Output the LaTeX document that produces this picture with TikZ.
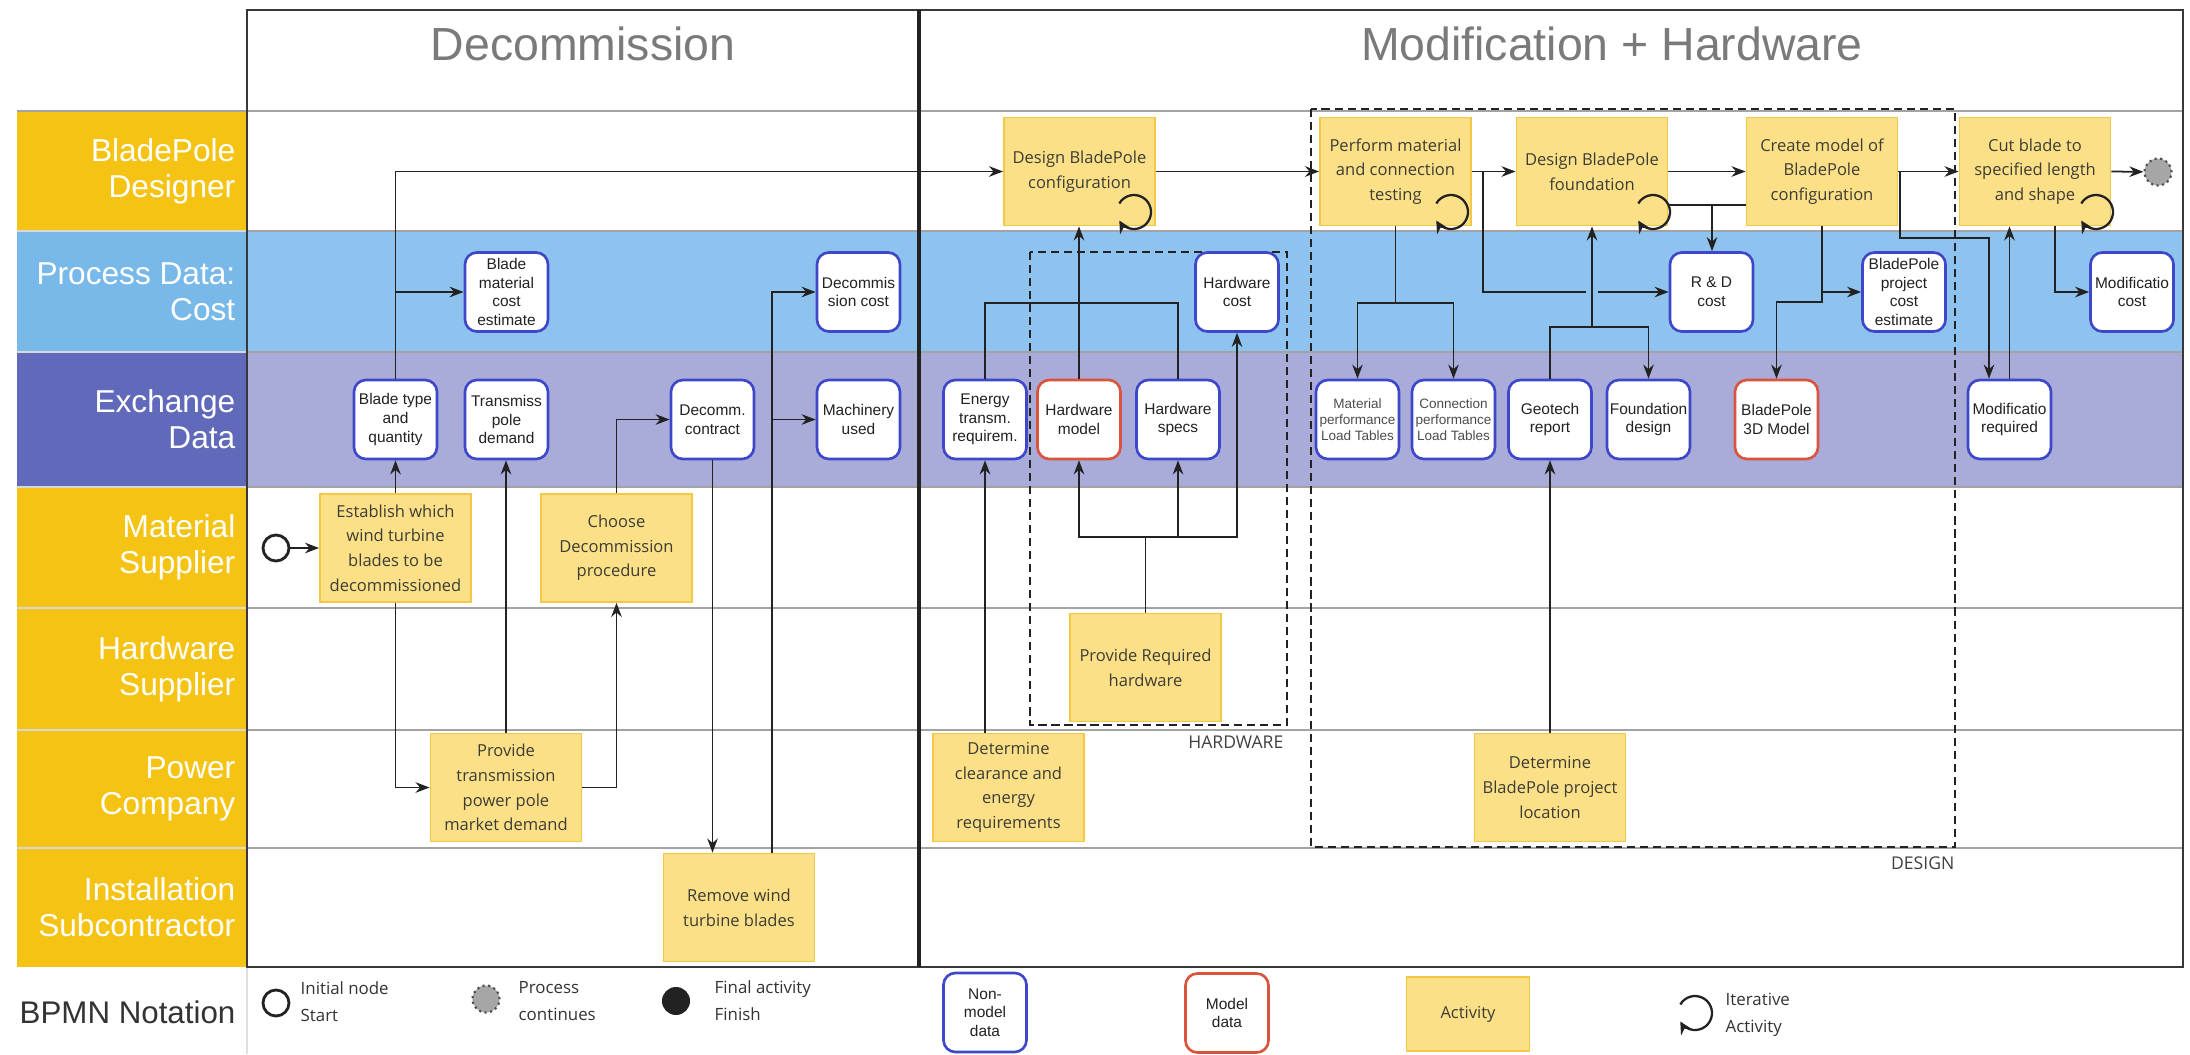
\documentclass[tikz,border=0pt]{standalone}
\usepackage{fontspec}
\setmainfont{Liberation Sans}
\newfontfamily\osans{Open Sans}
\usetikzlibrary{arrows.meta}
\definecolor{gold}{HTML}{F5C314}
\definecolor{procbg}{HTML}{8DC3EE}
\definecolor{proclab}{HTML}{79B9EA}
\definecolor{exbg}{HTML}{A9ACD9}
\definecolor{exlab}{HTML}{6169BA}
\definecolor{actfill}{HTML}{FBE087}
\definecolor{actdraw}{HTML}{F3C844}
\definecolor{dblue}{HTML}{3E47C9}
\definecolor{dred}{HTML}{D9543E}
\definecolor{laneline}{HTML}{A3A3A3}
\definecolor{sepcol}{HTML}{D8D8D8}
\definecolor{ink}{HTML}{222222}
\definecolor{hdr}{HTML}{7A7A7A}
\definecolor{acttext}{HTML}{3D3D35}
\begin{document}
\begin{tikzpicture}[x=0.01cm,y=-0.01cm,
  act/.style={draw=actdraw, fill=actfill, line width=0.5pt, minimum width=1.51cm, minimum height=1.08cm, inner sep=0pt, align=center, text=acttext, font=\osans\fontsize{4.7}{7}\selectfont},
  dat/.style={draw=dblue, fill=white, rounded corners=3.4pt, line width=0.75pt, minimum width=0.83cm, minimum height=0.79cm, inner sep=0pt, align=center, text=ink, font=\fontsize{4.4}{5.3}\selectfont},
  mdat/.style={dat, draw=dred},
  sdat/.style={dat, text=black!70, font=\fontsize{3.85}{4.55}\selectfont},
  conn/.style={draw=ink, line width=0.5pt},
  arr/.style={conn, -{Stealth[length=4pt,width=3pt]}},
  grp/.style={draw=ink, dash pattern=on 2.3pt off 1.4pt, line width=0.6pt},
  lanelab/.style={text=white, align=right, anchor=east, inner sep=0pt, font=\fontsize{9}{10.2}\selectfont},
  hdrtext/.style={text=hdr, inner sep=0pt, font=\fontsize{13.2}{15}\selectfont},
  grplab/.style={text=black!75, inner sep=0pt, font=\osans\fontsize{5}{6}\selectfont},
  legtext/.style={text=black!80, inner sep=0pt, align=left, anchor=west, font=\osans\fontsize{4.8}{7.6}\selectfont},
  startc/.style={circle, draw=ink, line width=0.8pt, minimum size=0.26cm, inner sep=0pt, fill=white},
  contc/.style={circle, draw=black!70, fill=black!35, densely dotted, line width=0.6pt, minimum size=0.27cm, inner sep=0pt},
  finc/.style={circle, fill=ink, minimum size=0.28cm, inner sep=0pt},
  iter/.pic={\draw[ink, line width=0.65pt, -{Stealth[length=3.5pt,width=3.5pt]}] (-150:17) arc[start angle=-150, end angle=150, radius=17];}
]
\fill[white] (0,0) rectangle (2190,1054);
\useasboundingbox (0,0) rectangle (2190,1054);

% lane backgrounds
\fill[procbg] (247,231) rectangle (2183,352);
\fill[exbg] (247,352) rectangle (2183,487);
% label bands
\fill[gold] (17,111) rectangle (247,231);
\fill[proclab] (17,231) rectangle (247,352);
\fill[exlab] (17,352) rectangle (247,487);
\fill[gold] (17,487) rectangle (247,967);
\foreach \y in {231,352,487,608,730,848} \draw[sepcol, line width=0.6pt] (17,\y) -- (247,\y);
\draw[laneline, line width=0.6pt] (17,111) -- (2183,111);
\foreach \y in {231,352,487,608,730,848} \draw[laneline, line width=0.6pt] (247,\y) -- (2183,\y);
\draw[black!12, line width=0.5pt] (247,967) -- (247,1054);
% pools
\draw[ink!90, line width=0.75pt] (247,10) rectangle (2183,967);
\draw[ink, line width=1pt] (919,10) -- (919,967);

% headers
\node[hdrtext, anchor=base] (h1) at (583,60) {Decommission};
\node[hdrtext, anchor=base] (h2) at (1612,60) {Modification + Hardware};

% lane labels
\node[lanelab] (l1) at (236,171) {BladePole\\Designer};
\node[lanelab] (l2) at (236,291.5) {Process Data:\\Cost};
\node[lanelab] (l3) at (236,419.5) {Exchange\\Data};
\node[lanelab] (l4) at (236,547.5) {Material\\Supplier};
\node[lanelab] (l5) at (236,669) {Hardware\\Supplier};
\node[lanelab] (l6) at (236,789) {Power\\Company};
\node[lanelab] (l7) at (236,907.5) {Installation\\Subcontractor};
\node[text=black!80, inner sep=0pt, anchor=west, font=\fontsize{8.9}{10}\selectfont] (bpmn) at (19,1012) {BPMN Notation};

% dashed groups
\draw[grp] (1030,252) rectangle (1287,725);
\node[grplab, anchor=east] (hwl) at (1284,742) {HARDWARE};
\draw[grp] (1311,109) rectangle (1955,847);
\node[grplab, anchor=east] (dsl) at (1955,863) {DESIGN};

% activities
\node[act] (est) at (395.5,548) {Establish which\\wind turbine\\blades to be\\decommissioned};
\node[act] (cdp) at (616.5,548) {Choose\\Decommission\\procedure};
\node[act] (ptm) at (506,787.5) {Provide\\transmission\\power pole\\market demand};
\node[act] (rwt) at (739,907.5) {Remove wind\\turbine blades};
\node[act] (dbc) at (1079.5,171.5) {Design BladePole\\configuration};
\node[act] (pmt) at (1395.5,171.5) {Perform material\\and connection\\testing};
\node[act] (fnd) at (1592,171.5) {Design BladePole\\foundation};
\node[act] (cm) at (1822,171.5) {Create model of\\BladePole\\configuration};
\node[act] (cut) at (2035,171.5) {Cut blade to\\specified length\\and shape};
\node[act] (prh) at (1145.5,667.5) {Provide Required\\hardware};
\node[act] (dcl) at (1008.5,787.5) {Determine\\clearance and\\energy\\requirements};
\node[act] (dloc) at (1550,787.5) {Determine\\BladePole project\\location};

% data
\node[dat] (btq) at (395.5,419.5) {Blade type\\and\\quantity};
\node[dat] (tpd) at (506.5,419.5) {Transmiss\\pole\\demand};
\node[dat] (dcon) at (712.5,419.5) {Decomm.\\contract};
\node[dat] (mach) at (858.5,419.5) {Machinery\\used};
\node[dat] (bmc) at (506.5,292) {Blade\\material\\cost\\estimate};
\node[dat] (dcost) at (858.5,292) {Decommis\\sion cost};
\node[dat] (hcost) at (1237,292) {Hardware\\cost};
\node[dat] (etr) at (985,419.5) {Energy\\transm.\\requirem.};
\node[mdat] (hmod) at (1079,419.5) {Hardware\\model};
\node[dat] (hsp) at (1178,419.5) {Hardware\\specs};
\node[sdat] (mpl) at (1357.5,419.5) {Material\\performance\\Load Tables};
\node[sdat] (cpl) at (1453.5,419.5) {Connection\\performance\\Load Tables};
\node[dat] (geo) at (1550,419.5) {Geotech\\report};
\node[dat] (fdes) at (1648.5,419.5) {Foundation\\design};
\node[dat] (rd) at (1711.5,292) {R \& D\\cost};
\node[dat] (pce) at (1904,292) {BladePole\\project\\cost\\estimate};
\node[mdat] (bp3d) at (1776.5,419.5) {BladePole\\3D Model};
\node[dat] (mreq) at (2009.5,419.5) {Modificatio\\required};
\node[dat] (mcost) at (2132,292) {Modificatio\\cost};

% events
\node[startc] (st) at (276,548) {};
\node[contc] (endc) at (2158,172) {};

% connectors: Decommission
\draw[arr] (st) -- (est);
\draw[arr] (est.north) -- (btq.south);
\draw[arr] (btq.north) |- (dbc.west);
\coordinate (c2) at (btq.north |- bmc.west);
\draw[arr] (c2) -- (bmc.west);
\draw[arr] (est.south) |- (ptm.west);
\draw[arr] (ptm.north) -- (ptm.north |- tpd.south);
\draw[arr] (ptm.east) -| (cdp.south);
\draw[arr] (cdp.north) |- (dcon.west);
\draw[arr] (dcon.south) -- (dcon.south |- rwt.north);
\coordinate (c3) at ([xshift=0.33cm]rwt.north);
\draw[arr] (c3) |- (dcost.west);
\draw[arr] (c3 |- mach.west) -- (mach.west);

% connectors: Modification
\draw[arr] (dbc.east) -- (pmt.west);
\draw[arr] (pmt.east) -- (fnd.west);
\coordinate (c4) at (1483,171.5);
\draw[arr] (c4) |- (rd.west);
\fill[procbg] (1586,288) rectangle (1598,296);
\draw[arr] (fnd.east) -- (cm.west);
\coordinate (c5) at (1712,205);
\draw[conn] (fnd.east |- c5) -- (cm.west |- c5);
\draw[arr] (c5) -- (c5 |- rd.north);
\draw[arr] (cm.east) -- (cut.west);
\coordinate (c6) at (1900,171.5);
\coordinate (c7) at (1989,238);
\draw[arr] (c6) |- (c7) -- (c7 |- mreq.north);
\draw[arr] (mreq.north) -- (mreq.north |- cut.south);
\coordinate (c8) at ([xshift=0.2cm]cut.south);
\draw[arr] (c8) |- (mcost.west);
\draw[arr] (cut.east) -- (endc);
\coordinate (c9) at (1822,302);
\draw[arr] (cm.south) -- (c9) -| (bp3d.north);
\draw[arr] (cm.south |- pce.west) -- (pce.west);
\coordinate (c10) at (1395.5,303);
\draw[conn] (pmt.south) -- (c10);
\draw[arr] (c10) -| (mpl.north);
\draw[arr] (c10) -| (cpl.north);
\coordinate (c11) at (1592,327);
\draw[arr] (geo.north) |- (c11) -- (c11 |- fnd.south);
\draw[arr] (c11) -| (fdes.north);
\draw[arr] (dloc.north) -- (geo.south);
\draw[arr] (etr.south |- dcl.north) -- (etr.south);
\coordinate (c12) at (985,303);
\draw[conn] (etr.north) -- (c12) -| (hsp.north);
\draw[arr] (hmod.north) -- (hmod.north |- dbc.south);
\coordinate (c13) at (1145.5,537);
\draw[conn] (prh.north) -- (c13);
\draw[arr] (c13) -| (hmod.south);
\draw[arr] (c13) -| (hsp.south);
\draw[arr] (c13) -| (hcost.south);

% iterative loops
\pic at (1134,212) {iter};
\pic at (1451,212) {iter};
\pic at (1653,212) {iter};
\pic at (2096,212) {iter};

% legend
\node[startc] (lgst) at (276,1003) {};
\node[legtext] (lgstt) at (300,1002) {Initial node\\Start};
\node[contc] (lgpc) at (486,999) {};
\node[legtext] (lgpct) at (518,1001) {Process\\continues};
\node[finc] (lgfin) at (676,1001) {};
\node[legtext] (lgfint) at (714,1001) {Final activity\\Finish};
\node[dat] (lgnm) at (985,1012.5) {Non-\\model\\data};
\node[mdat] (lgmd) at (1227,1013) {Model\\data};
\node[act, minimum width=1.23cm, minimum height=0.74cm] (lgact) at (1468,1014) {Activity};
\pic at (1695,1013) {iter};
\node[legtext] (lgit) at (1725,1015) {Iterative\\Activity};
\end{tikzpicture}
\end{document}
